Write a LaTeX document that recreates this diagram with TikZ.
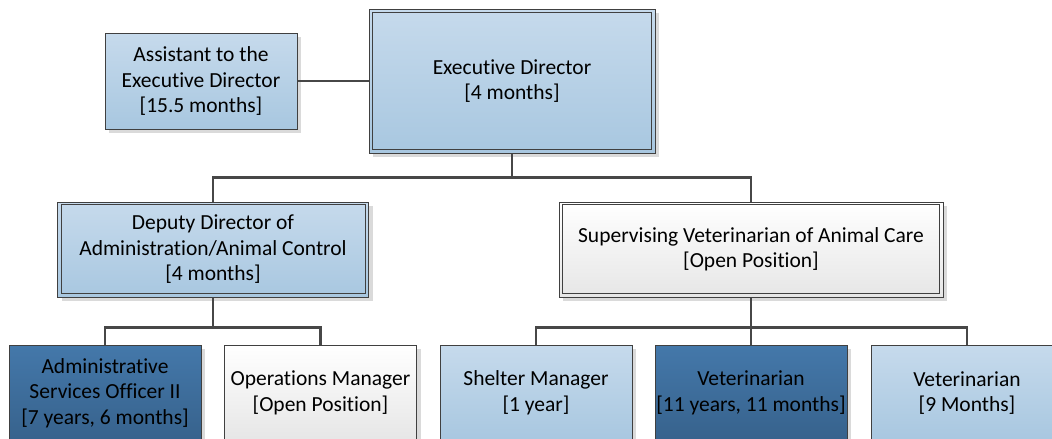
\documentclass[tikz,border=0pt]{standalone}
\usepackage{fontspec}
\setmainfont[Ligatures=NoCommon]{Carlito}
\usetikzlibrary{shadows}
\definecolor{edgegray}{HTML}{404040}
\definecolor{linegray}{HTML}{474747}
\definecolor{lbtop}{HTML}{C6DAEC}
\definecolor{lbbot}{HTML}{A8C7E0}
\definecolor{dbtop}{HTML}{4478AA}
\definecolor{dbbot}{HTML}{37628C}
\definecolor{wtop}{HTML}{FFFFFF}
\definecolor{wbot}{HTML}{E6E6E6}
\definecolor{shade}{HTML}{DADADA}
\begin{document}
\begin{tikzpicture}[x=1pt,y=-1pt,
  box/.style={draw=edgegray, line width=1pt, rectangle, align=center,
    inner sep=0pt, font=\fontsize{21.5}{25.5}\selectfont,
    drop shadow={shadow xshift=4pt, shadow yshift=-4pt, fill=shade, opacity=1}},
  lightbox/.style={box, top color=lbtop, bottom color=lbbot},
  darkbox/.style={box, top color=dbtop, bottom color=dbbot},
  openbox/.style={box, top color=wtop, bottom color=wbot},
  leaf/.style={minimum width=192pt, minimum height=96pt},
  link/.style={draw=linegray, line width=2.5pt},
  inset/.style={draw=edgegray, line width=1pt}
]
\useasboundingbox (0,0) rectangle (1052,439);
\clip (0,0) rectangle (1052,439);

% top level
\node[lightbox, minimum width=192pt, minimum height=96pt] (asst) at (201,81)
  {Assistant to the\\Executive Director\\{}[15.5 months]};
\node[lightbox, minimum width=286pt, minimum height=144pt] (exec) at (512,81)
  {Executive Director\\{}[4 months]};
\draw[inset] ([shift={(4,4)}]exec.north west) rectangle ([shift={(-4,-4)}]exec.south east);

% second level
\node[lightbox, minimum width=311pt, minimum height=95pt] (dep) at (213,249.5)
  {Deputy Director of\\Administration/Animal Control\\{}[4 months]};
\draw[inset] ([shift={(4,3)}]dep.north west) rectangle ([shift={(-4,-4)}]dep.south east);
\node[openbox, minimum width=384pt, minimum height=95pt] (sup) at (751,249.5)
  {Supervising Veterinarian of Animal Care\\{}[Open Position]};
\draw[inset] ([shift={(4,3)}]sup.north west) rectangle ([shift={(-4,-4)}]sup.south east);

% third level
\node[darkbox, leaf] (aso) at (105,393)
  {Administrative\\Services Officer II\\{}[7 years, 6 months]};
\node[openbox, leaf] (ops) at (320.5,393)
  {Operations Manager\\{}[Open Position]};
\node[lightbox, leaf] (shel) at (536,393)
  {Shelter Manager\\{}[1 year]};
\node[darkbox, leaf] (vet1) at (751,393)
  {Veterinarian\\{}[11 years, 11 months]};
\node[lightbox, leaf] (vet2) at (967,393)
  {Veterinarian\\{}[9 Months]};

% connectors
\draw[link] (asst.east) -- (exec.west);
\draw[link] (exec.south) -- ++(0,24) -| (dep.north);
\draw[link] (exec.south) ++(0,24) -| (sup.north);
\draw[link] (dep.south) -- ++(0,30) -| (aso.north);
\draw[link] (dep.south) ++(0,30) -| (ops.north);
\draw[link] (sup.south) -- (vet1.north);
\draw[link] (sup.south) ++(0,30) -| (shel.north);
\draw[link] (sup.south) ++(0,30) -| (vet2.north);
\end{tikzpicture}
\end{document}
